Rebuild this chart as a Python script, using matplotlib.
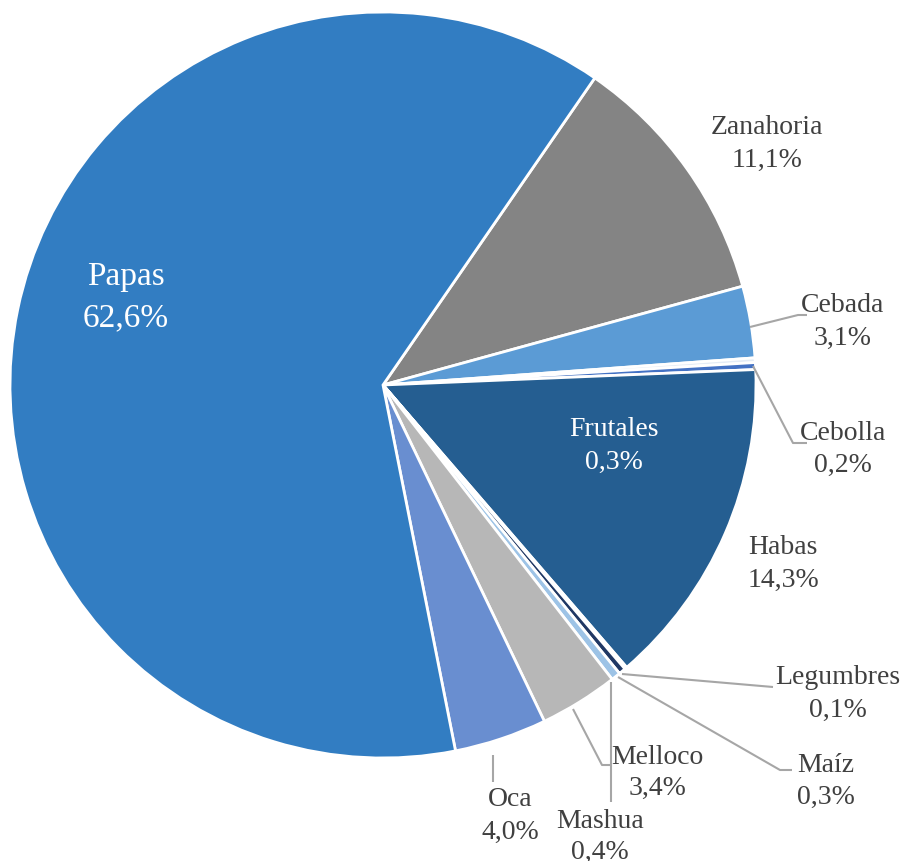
import matplotlib
matplotlib.use("Agg")
import matplotlib.pyplot as plt

# Data (clockwise from the Zanahoria slice)
categories = ["Zanahoria", "Cebada", "Cebolla", "Frutales", "Habas", "Legumbres",
              "Maíz", "Mashua", "Melloco", "Oca", "Papas"]
values = [11.1, 3.1, 0.2, 0.3, 14.3, 0.1, 0.3, 0.4, 3.4, 4.0, 62.6]
pct_labels = ["11,1%", "3,1%", "0,2%", "0,3%", "14,3%", "0,1%", "0,3%", "0,4%",
              "3,4%", "4,0%", "62,6%"]
colors = ["#848484", "#5B9BD5", "#E4ECF6", "#4472C4", "#255E91", "#A9C4E8",
          "#203864", "#9DC3E6", "#B7B7B7", "#698ED0", "#327DC2"]

W, H = 900, 861
fig = plt.figure(figsize=(W / 100, H / 100), dpi=100)
ax = fig.add_axes([0, 0, 1, 1])

cx, cy, r = 383, 385, 373
ax.pie(values, colors=colors, startangle=-55.4, counterclock=True,
       center=(cx, cy), radius=r, frame=True,
       wedgeprops=dict(edgecolor="white", linewidth=2))
ax.set_xlim(0, W)
ax.set_ylim(H, 0)
ax.set_aspect("equal")
ax.axis("off")

font = ["Liberation Serif", "DejaVu Serif"]
tc = "#404040"
fs = 20

# label positions (pixel coordinates)
label_pos = {
    "Zanahoria": (767, 127, 160, tc),
    "Cebada": (843, 305, 338, tc),
    "Cebolla": (843, 434, 465, tc),
    "Frutales": (614, 429, 462, "white"),
    "Habas": (783, 548, 580, tc),
    "Legumbres": (838, 677, 710, tc),
    "Maíz": (826, 766, 797, tc),
    "Melloco": (657, 757, 788, tc),
    "Mashua": (600, 822, 852, tc),
    "Oca": (510, 800, 832, tc),
}
for cat, pct in zip(categories, pct_labels):
    if cat == "Papas":
        ax.text(126, 277, cat, ha="center", va="center", fontsize=24,
                color="white", family=font)
        ax.text(126, 318, pct, ha="center", va="center", fontsize=24,
                color="white", family=font)
        continue
    x, y1, y2, c = label_pos[cat]
    ax.text(x, y1, cat, ha="center", va="center", fontsize=fs, color=c, family=font)
    ax.text(x, y2, pct, ha="center", va="center", fontsize=fs, color=c, family=font)

# leader lines
leaders = [
    [(750, 327), (798, 315), (807, 315)],
    [(753, 366), (793, 443), (807, 443)],
    [(622, 674), (773, 687)],
    [(618, 677), (780, 770), (792, 770)],
    [(573, 709), (602, 765), (610, 765)],
    [(611, 682), (611, 802)],
    [(493, 755), (493, 782)],
]
for pts in leaders:
    xs, ys = zip(*pts)
    ax.plot(xs, ys, color="#A6A6A6", lw=1.5, solid_capstyle="butt")

fig.savefig("out.png", dpi=100, facecolor="white")
